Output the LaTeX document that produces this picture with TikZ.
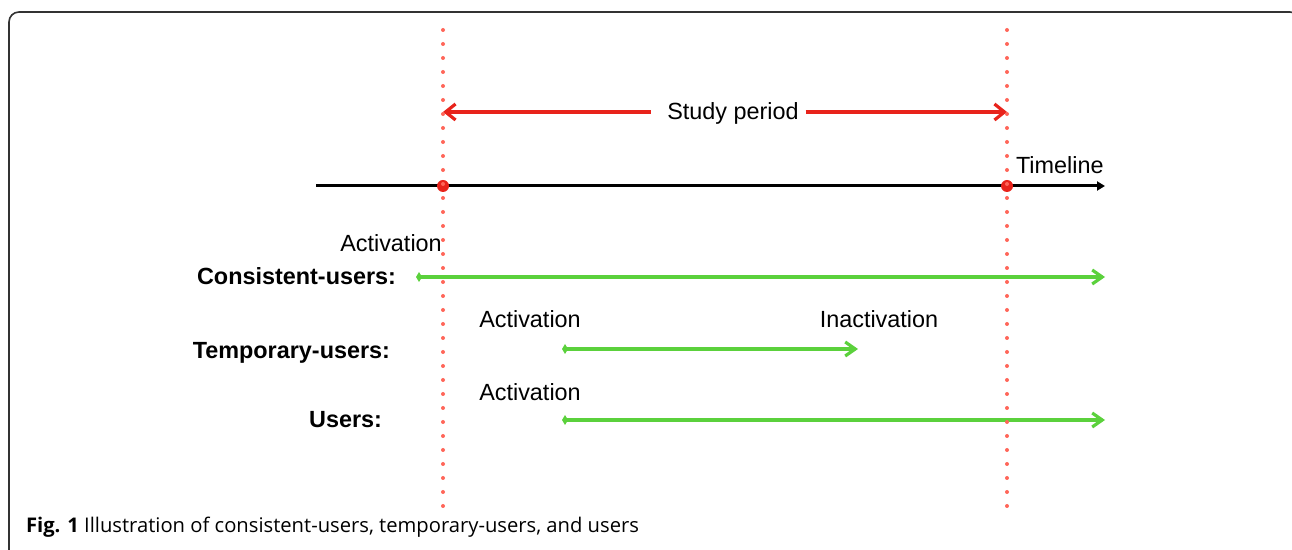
\documentclass[tikz,border=0pt]{standalone}
\usepackage{fontspec}
\setmainfont{Liberation Sans}
\newfontfamily\capfont{Open Sans}
\usetikzlibrary{arrows.meta}
\definecolor{periodred}{HTML}{E8231B}
\definecolor{dotred}{HTML}{FF6659}
\definecolor{usergreen}{HTML}{5BD13C}
\definecolor{framegray}{HTML}{333333}
\begin{document}
\begin{tikzpicture}[x=0.5pt, y=-0.5pt]
\tikzset{ >=Latex, inner sep=0pt, outer sep=0pt,
  lbl/.style={font=\fontsize{11.7}{14}\selectfont, text height=0.72em, text depth=0pt},
  grp/.style={lbl, font=\fontsize{11.7}{14}\selectfont\bfseries},
  barb/.style={Straight Barb[length=5pt,width=8pt]},
  period/.style={periodred, line width=1.6pt},
  span/.style={usergreen, line width=1.6pt, {Diamond[length=3pt,width=5pt]}-{Straight Barb[length=5pt,width=7pt]}},
  tdot/.style={fill=periodred, circle, minimum size=6pt},
  limit/.style={dotred, line width=2pt, line cap=round, dash pattern=on 0pt off 7pt},
}

\useasboundingbox (0,0) rectangle (1292,550);

% frame
\draw [framegray, line width=0.8pt, rounded corners=5pt] (9,560) -- (9,12) -- (1300,12) -- (1300,560);

% study period
\coordinate (P0) at (443,112);
\coordinate (P1) at (1007,112);
\node [lbl] (period) at (733,112) {Study period};
\draw [period, {Straight Barb[length=5pt,width=8pt]}-] (P0) -- ([xshift=-8pt]period.west);
\draw [period, -{Straight Barb[length=5pt,width=8pt]}] ([xshift=3.5pt]period.east) -- (P1);

% timeline
\coordinate (T0) at (316,186);
\coordinate (T1) at (1105,186);
\draw [->, line width=1.5pt, >={Triangle[length=4pt,width=4.5pt]}] (T0) -- (T1);
\node [tdot] (begin) at (443,186) {};
\node [tdot] (end)   at (1007,186) {};
\node [lbl, anchor=west] (timeline) at (1016,166) {Timeline};

% consistent-users
\node [grp, anchor=east] (cons) at (396,277) {Consistent-users:};
\node [lbl] (act1) at (391,244) {Activation};
\coordinate (C0) at (416,277);
\coordinate (C1) at (1105,277);
\draw [span] (C0) -- (C1);

% temporary-users
\node [grp, anchor=east] (temp) at (390,351) {Temporary-users:};
\node [lbl] (act2)   at (530,320) {Activation};
\node [lbl] (inact)  at (879,320) {Inactivation};
\coordinate (M0) at (562,349);
\coordinate (M1) at (858,349);
\draw [span] (M0) -- (M1);

% users
\node [grp, anchor=east] (users) at (382,420) {Users:};
\node [lbl] (act3) at (530,393) {Activation};
\coordinate (U0) at (562,420);
\coordinate (U1) at (1105,420);
\draw [span] (U0) -- (U1);

% limits of the study period
\draw [limit] (443,30) -- (443,507);
\draw [limit] (1007,30) -- (1007,507);

% caption
\node [anchor=west, font=\capfont\fontsize{10.1}{12}\selectfont] (caption) at (26,527)
  {\textbf{Fig. 1} Illustration of consistent-users, temporary-users, and users};

\end{tikzpicture}
\end{document}
